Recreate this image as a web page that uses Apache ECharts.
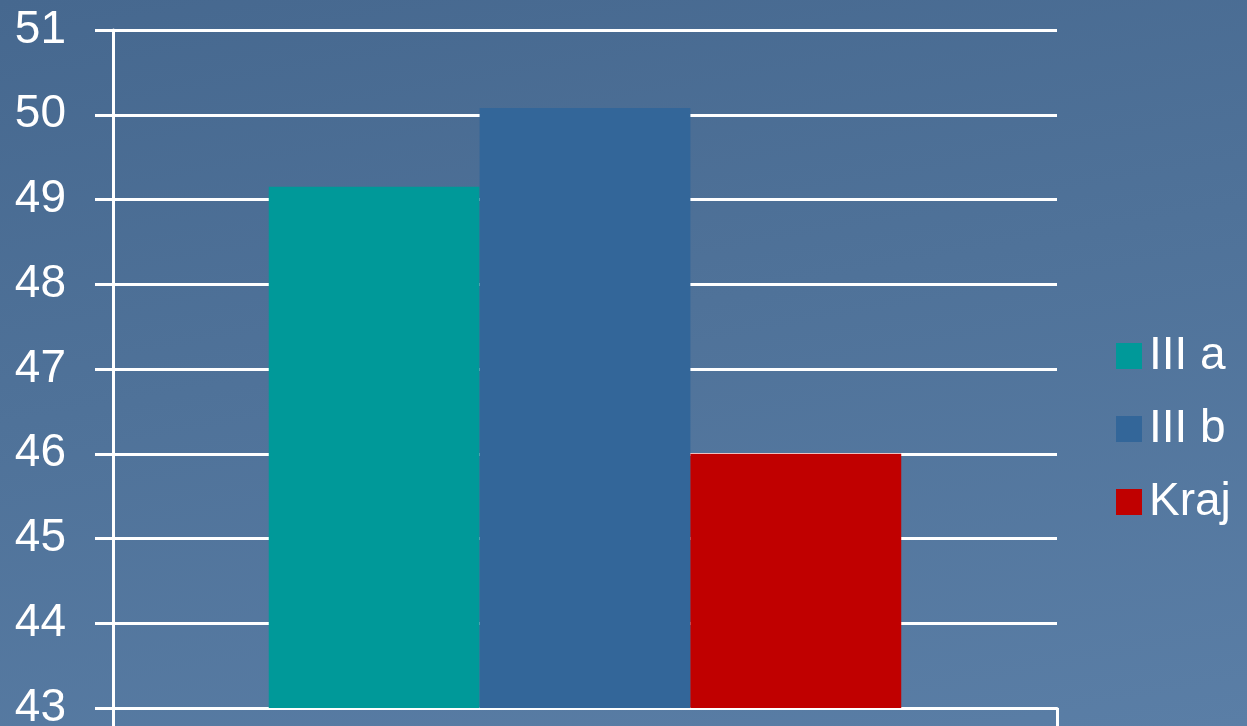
<!DOCTYPE html>
<html>
<head>
<meta charset="utf-8">
<script src="https://cdn.jsdelivr.net/npm/echarts@6/dist/echarts.min.js"></script>
<style>
  html, body { margin: 0; padding: 0; }
  #chart {
    width: 1247px;
    height: 726px;
    background: linear-gradient(170deg, #46688f 0%, #4f7299 45%, #5a7ea6 100%);
  }
</style>
</head>
<body>
<div id="chart"></div>
<script>
var categories = [''];
var seriesNames = ['III a', 'III b', 'Kraj'];
var seriesValues = [[49.15], [50.08], [46.0]];
var seriesColors = ['#009999', '#336699', '#c00000'];
var yTicks = { min: 43, max: 51, interval: 1 };

var chart = echarts.init(document.getElementById('chart'));

var series = seriesNames.map(function (name, i) {
    return {
        name: name,
        type: 'bar',
        data: seriesValues[i],
        barGap: '0%',
        barCategoryGap: '33%',
        itemStyle: { color: seriesColors[i] }
    };
});

chart.setOption({
    backgroundColor: 'transparent',
    animation: false,
    textStyle: { fontFamily: 'Liberation Sans, Arial, sans-serif' },
    grid: {
        left: 113, right: 190, top: 30, bottom: 18,
        containLabel: false,
        outerBoundsMode: 'none'
    },
    legend: {
        orient: 'vertical',
        left: 1111,
        top: 328,
        itemWidth: 26,
        itemHeight: 26,
        itemGap: 27,
        icon: 'rect',
        textStyle: { color: '#fff', fontSize: 46, padding: [0, 0, 0, 2] },
        data: seriesNames
    },
    xAxis: {
        type: 'category',
        data: categories,
        axisLine: { lineStyle: { color: '#fff', width: 3 } },
        axisTick: { show: true, length: 30, lineStyle: { color: '#fff', width: 3 } },
        axisLabel: { show: false }
    },
    yAxis: {
        type: 'value',
        min: yTicks.min,
        max: yTicks.max,
        interval: yTicks.interval,
        axisLine: { show: true, lineStyle: { color: '#fff', width: 3 } },
        axisTick: { show: true, length: 18, lineStyle: { color: '#fff', width: 3 } },
        axisLabel: { color: '#fff', fontSize: 46, margin: 47 },
        splitLine: { lineStyle: { color: '#fff', width: 3 } }
    },
    series: series
});
</script>
</body>
</html>
